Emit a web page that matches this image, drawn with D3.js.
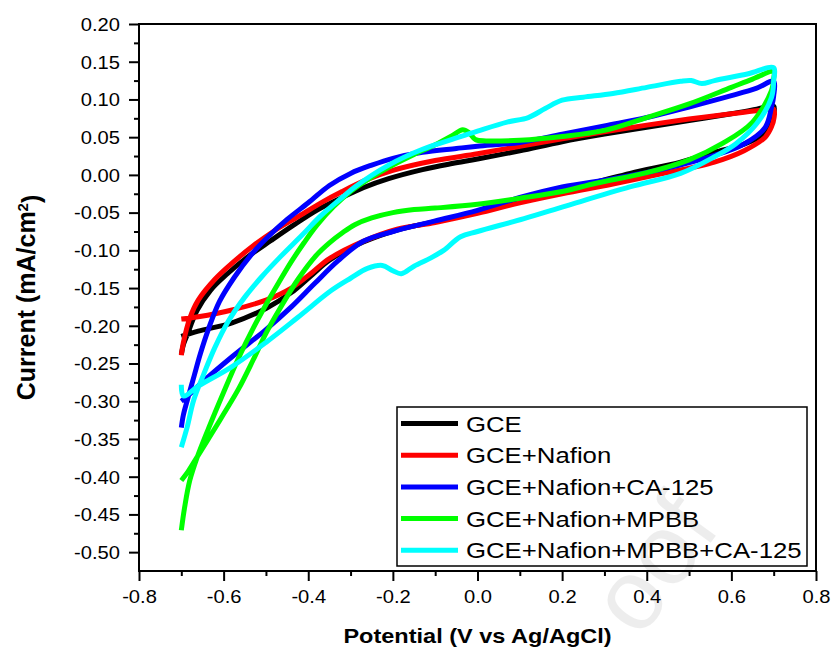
<!DOCTYPE html>
<html>
<head>
<meta charset="utf-8">
<script src="https://cdn.jsdelivr.net/npm/d3@7"></script>
<style>
  body { margin: 0; background: #fff; }
  svg { display: block; font-family: Arial, "Liberation Sans", sans-serif; }
</style>
</head>
<body>
<div id="chart"></div>
<script>
// Cyclic voltammograms: [potential (V), current (mA/cm2)]
// forward scan -0.7 -> 0.7 then reverse scan back to -0.7
const gce = [
  [-0.700,-0.238],[-0.695,-0.225],[-0.686,-0.212],[-0.663,-0.180],[-0.631,-0.153],[-0.591,-0.131],
  [-0.544,-0.109],[-0.488,-0.087],[-0.433,-0.066],[-0.377,-0.046],[-0.320,-0.030],[-0.270,-0.017],
  [-0.210,-0.005],[-0.130,0.007],[-0.060,0.015],[0.000,0.021],[0.100,0.032],[0.200,0.044],
  [0.300,0.054],[0.400,0.063],[0.500,0.072],[0.600,0.081],[0.660,0.087],[0.700,0.091],
  [0.700,0.080],[0.694,0.070],[0.679,0.055],[0.631,0.041],[0.560,0.030],[0.480,0.017],
  [0.361,0.002],[0.200,-0.021],[0.100,-0.035],[0.000,-0.049],[-0.100,-0.062],[-0.190,-0.073],
  [-0.270,-0.089],[-0.350,-0.113],[-0.390,-0.132],[-0.440,-0.156],[-0.500,-0.177],[-0.580,-0.196],
  [-0.660,-0.207],[-0.700,-0.214]
];
const gceNafion = [
  [-0.700,-0.239],[-0.695,-0.222],[-0.680,-0.190],[-0.660,-0.166],[-0.620,-0.138],[-0.580,-0.117],
  [-0.530,-0.094],[-0.480,-0.074],[-0.420,-0.054],[-0.370,-0.037],[-0.320,-0.022],[-0.260,-0.006],
  [-0.200,0.006],[-0.100,0.019],[0.000,0.028],[0.100,0.038],[0.200,0.048],[0.300,0.057],
  [0.400,0.066],[0.500,0.074],[0.600,0.081],[0.660,0.085],[0.700,0.087],
  [0.701,0.076],[0.695,0.064],[0.680,0.050],[0.630,0.032],[0.560,0.017],[0.440,0.002],
  [0.320,-0.012],[0.200,-0.025],[0.100,-0.037],[0.000,-0.051],[-0.100,-0.063],[-0.190,-0.072],
  [-0.270,-0.088],[-0.350,-0.111],[-0.390,-0.129],[-0.440,-0.150],[-0.500,-0.166],[-0.580,-0.179],
  [-0.660,-0.188],[-0.700,-0.191]
];
const gceNafionCA125 = [
  [-0.700,-0.335],[-0.695,-0.318],[-0.685,-0.297],[-0.670,-0.267],[-0.655,-0.237],[-0.635,-0.203],
  [-0.610,-0.168],[-0.575,-0.136],[-0.535,-0.106],[-0.495,-0.082],[-0.450,-0.059],[-0.400,-0.037],
  [-0.350,-0.014],[-0.300,0.002],[-0.250,0.013],[-0.200,0.022],[-0.130,0.030],[-0.050,0.035],
  [0.000,0.038],[0.100,0.043],[0.200,0.054],[0.300,0.065],[0.400,0.076],[0.500,0.090],
  [0.600,0.105],[0.660,0.115],[0.700,0.124],
  [0.700,0.105],[0.695,0.090],[0.680,0.063],[0.630,0.041],[0.560,0.026],[0.440,0.008],
  [0.320,-0.005],[0.200,-0.016],[0.100,-0.030],[0.000,-0.047],[-0.100,-0.061],[-0.200,-0.075],
  [-0.270,-0.088],[-0.330,-0.114],[-0.385,-0.144],[-0.440,-0.175],[-0.500,-0.205],[-0.580,-0.241],
  [-0.645,-0.272],[-0.685,-0.293],[-0.700,-0.300]
];
const gceNafionMPBB = [
  [-0.700,-0.471],[-0.692,-0.440],[-0.680,-0.405],[-0.663,-0.375],[-0.635,-0.335],[-0.600,-0.288],
  [-0.565,-0.243],[-0.530,-0.203],[-0.500,-0.172],[-0.470,-0.143],[-0.440,-0.115],[-0.410,-0.090],
  [-0.380,-0.067],[-0.340,-0.042],[-0.300,-0.022],[-0.250,-0.003],[-0.200,0.013],[-0.150,0.027],
  [-0.100,0.040],[-0.060,0.052],[-0.035,0.060],[-0.020,0.056],[-0.005,0.047],[0.020,0.045],
  [0.100,0.046],[0.200,0.051],[0.300,0.059],[0.400,0.076],[0.500,0.094],[0.600,0.116],
  [0.650,0.127],[0.700,0.137],
  [0.700,0.128],[0.695,0.112],[0.650,0.070],[0.580,0.042],[0.500,0.020],[0.400,0.003],
  [0.280,-0.011],[0.200,-0.022],[0.100,-0.031],[0.000,-0.039],[-0.100,-0.044],[-0.150,-0.046],
  [-0.200,-0.050],[-0.250,-0.057],[-0.290,-0.066],[-0.320,-0.077],[-0.350,-0.090],[-0.380,-0.106],
  [-0.425,-0.139],[-0.470,-0.180],[-0.500,-0.210],[-0.530,-0.245],[-0.565,-0.284],[-0.600,-0.317],
  [-0.635,-0.349],[-0.665,-0.376],[-0.685,-0.394],[-0.700,-0.405]
];
const gceNafionMPBBCA125 = [
  [-0.700,-0.361],[-0.686,-0.334],[-0.671,-0.299],[-0.647,-0.264],[-0.620,-0.228],[-0.590,-0.195],
  [-0.550,-0.162],[-0.510,-0.135],[-0.465,-0.108],[-0.415,-0.080],[-0.370,-0.054],[-0.320,-0.030],
  [-0.290,-0.016],[-0.210,0.013],[-0.130,0.034],[-0.060,0.047],[0.000,0.058],[0.070,0.070],
  [0.120,0.076],[0.160,0.088],[0.200,0.099],[0.250,0.103],[0.320,0.108],[0.400,0.116],
  [0.480,0.124],[0.505,0.125],[0.530,0.121],[0.560,0.125],[0.640,0.134],[0.700,0.142],
  [0.700,0.125],[0.695,0.103],[0.660,0.068],[0.610,0.041],[0.560,0.024],[0.480,0.002],
  [0.360,-0.016],[0.210,-0.041],[0.110,-0.058],[0.000,-0.075],[-0.040,-0.082],[-0.080,-0.100],
  [-0.110,-0.110],[-0.150,-0.121],[-0.180,-0.131],[-0.200,-0.127],[-0.225,-0.120],[-0.260,-0.124],
  [-0.300,-0.137],[-0.345,-0.153],[-0.425,-0.189],[-0.500,-0.222],[-0.580,-0.254],[-0.660,-0.280],
  [-0.695,-0.293],[-0.700,-0.278]
];

const seriesData = [gce, gceNafion, gceNafionCA125, gceNafionMPBB, gceNafionMPBBCA125];
const seriesNames = ["GCE", "GCE+Nafion", "GCE+Nafion+CA-125", "GCE+Nafion+MPBB", "GCE+Nafion+MPBB+CA-125"];
const seriesColors = ["#000000", "#ff0000", "#0000ff", "#00ff00", "#00ffff"];

const xTicks = [-0.8, -0.6, -0.4, -0.2, 0.0, 0.2, 0.4, 0.6, 0.8];
const xMinor = [-0.7, -0.5, -0.3, -0.1, 0.1, 0.3, 0.5, 0.7];
const yTicks = [0.20, 0.15, 0.10, 0.05, 0.00, -0.05, -0.10, -0.15, -0.20, -0.25, -0.30, -0.35, -0.40, -0.45, -0.50];
const yMinor = [0.175, 0.125, 0.075, 0.025, -0.025, -0.075, -0.125, -0.175, -0.225, -0.275, -0.325, -0.375, -0.425, -0.475];

// Dimensions
const width = 832, height = 650;
const margin = {top: 24, right: 16, bottom: 79, left: 139};
const plotW = width - margin.left - margin.right;
const plotH = height - margin.top - margin.bottom;
const stretch = 1.12; // text in the original is a bit wide

let svg = d3.select("#chart")
    .append("svg")
    .attr("width", width)
    .attr("height", height);

let g = svg.append("g")
    .attr("transform", "translate(" + margin.left + "," + margin.top + ")");

let x = d3.scaleLinear().domain([-0.8, 0.8]).range([0, plotW]);
let y = d3.scaleLinear().domain([-0.525, 0.2]).range([plotH, 0]);

// Minor ticks
g.append("g")
    .attr("transform", "translate(0," + plotH + ")")
    .call(d3.axisBottom(x).tickValues(xMinor).tickSize(5).tickFormat(""))
    .call(a => a.select(".domain").remove());
g.append("g")
    .call(d3.axisLeft(y).tickValues(yMinor).tickSize(5).tickFormat(""))
    .call(a => a.select(".domain").remove());

// Major ticks with labels
let xAxis = g.append("g")
    .attr("transform", "translate(0," + plotH + ")")
    .call(d3.axisBottom(x).tickValues(xTicks).tickSize(10).tickFormat(d => d.toFixed(1)));
xAxis.select(".domain").remove();
xAxis.selectAll("text")
    .attr("y", 0).attr("dy", null)
    .attr("transform", "translate(0,32) scale(" + stretch + ",1)")
    .style("font-size", "18px");

let yAxis = g.append("g")
    .call(d3.axisLeft(y).tickValues(yTicks).tickSize(10).tickFormat(d => d.toFixed(2)));
yAxis.select(".domain").remove();
yAxis.selectAll("text")
    .attr("x", 0).attr("dy", "0.35em")
    .attr("transform", "translate(-19,0) scale(" + stretch + ",1)")
    .style("font-size", "18px");

g.selectAll(".tick line").attr("stroke-width", 2);
g.selectAll(".tick text").attr("fill", "#000");

// Curves
let line = d3.line()
    .x(d => x(d[0]))
    .y(d => y(d[1]))
    .curve(d3.curveCatmullRom.alpha(0.5));

g.selectAll(".cv")
    .data(seriesData)
    .enter()
    .append("path")
    .attr("class", "cv")
    .attr("d", line)
    .attr("fill", "none")
    .attr("stroke", (d, i) => seriesColors[i])
    .attr("stroke-width", 5)
    .attr("stroke-linejoin", "round");

// Frame
g.append("rect")
    .attr("width", plotW)
    .attr("height", plotH)
    .attr("fill", "none")
    .attr("stroke", "#000")
    .attr("stroke-width", 2);

// Legend
let legend = svg.append("g").attr("transform", "translate(397,407)");
legend.append("rect")
    .attr("width", 410)
    .attr("height", 159)
    .attr("fill", "#fff")
    .attr("stroke", "#000")
    .attr("stroke-width", 1.5);

seriesNames.forEach(function(name, i) {
    let rowY = 16.5 + i * 31.7;
    legend.append("line")
        .attr("x1", 4).attr("x2", 61)
        .attr("y1", rowY).attr("y2", rowY)
        .attr("stroke", seriesColors[i])
        .attr("stroke-width", 5);
    legend.append("text")
        .attr("transform", "translate(69," + rowY + ") scale(" + stretch + ",1)")
        .attr("dy", "0.35em")
        .style("font-size", "23px")
        .text(name);
});

// Axis titles
svg.append("text")
    .attr("transform", "translate(" + (margin.left + plotW / 2) + ",643) scale(" + stretch + ",1)")
    .attr("text-anchor", "middle")
    .style("font-size", "21px")
    .style("font-weight", "bold")
    .text("Potential (V vs Ag/AgCl)");

let yTitle = svg.append("text")
    .attr("transform", "translate(35," + (margin.top + plotH / 2) + ") rotate(-90)")
    .attr("text-anchor", "middle")
    .style("font-size", "25px")
    .style("font-weight", "bold");
yTitle.append("tspan").text("Current (mA/cm");
yTitle.append("tspan").attr("dy", "-0.45em").style("font-size", "15px").text("2");
yTitle.append("tspan").attr("dy", "0.45em").text(")");

// faint watermark over everything, bottom right
svg.append("text")
    .attr("transform", "translate(640,640) rotate(-54)")
    .style("font-size", "100px")
    .style("fill", "#000")
    .style("fill-opacity", 0.07)
    .style("pointer-events", "none")
    .text("oof");
</script>
</body>
</html>
